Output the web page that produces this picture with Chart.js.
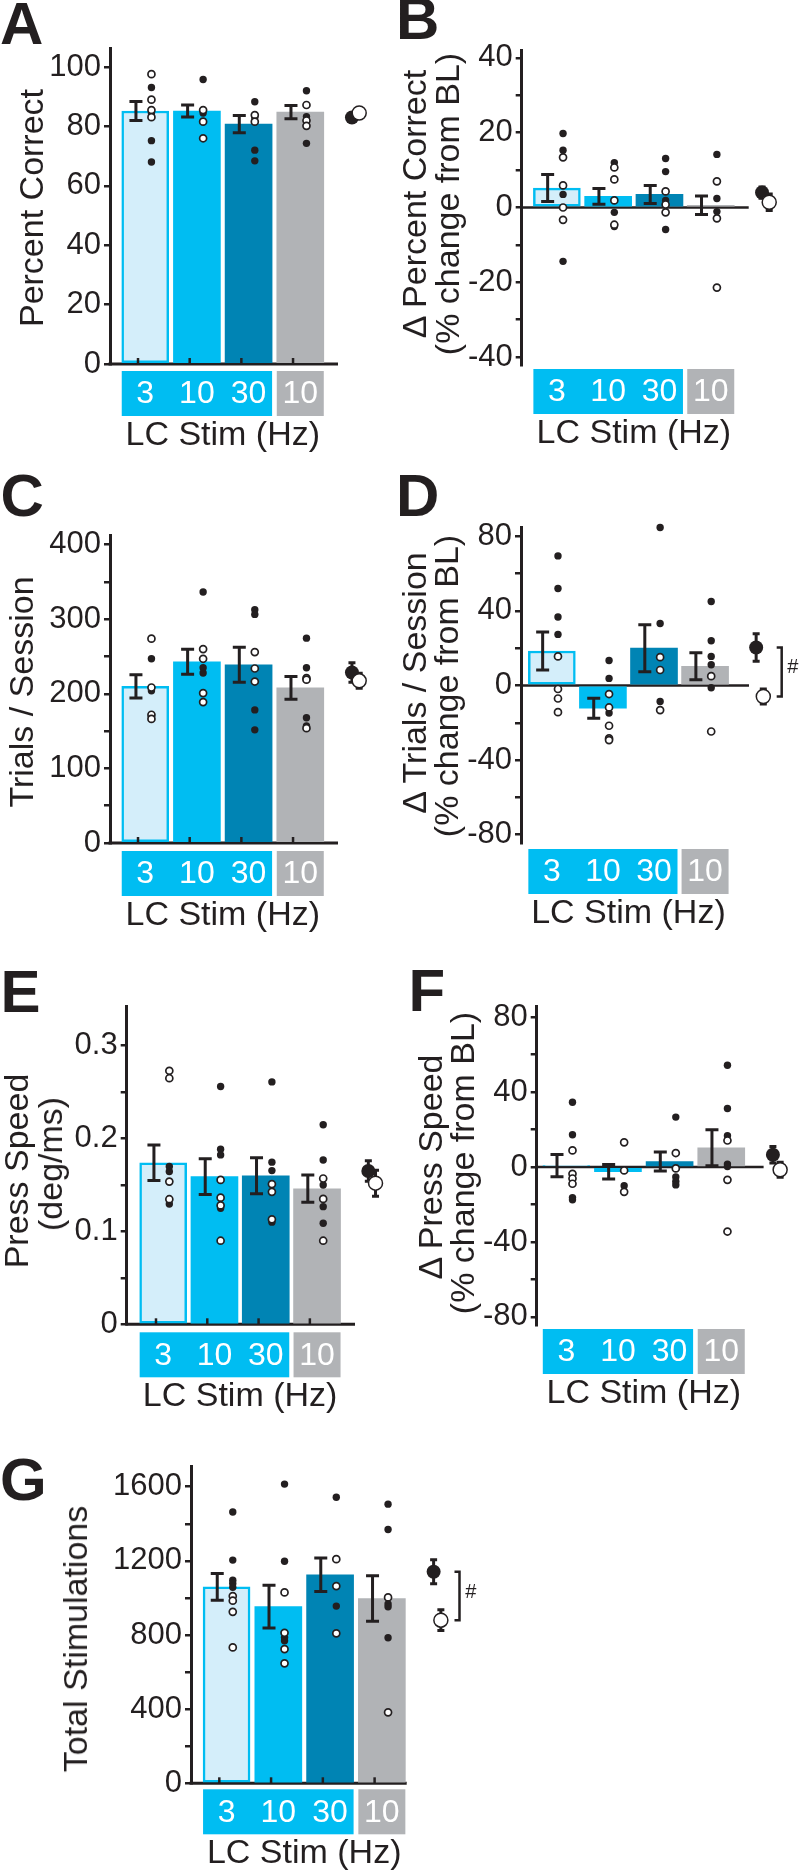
<!DOCTYPE html>
<html>
<head>
<meta charset="utf-8">
<script src="https://cdn.jsdelivr.net/npm/chart.js"></script>
<style>
  body { margin: 0; background: #fff; }
  #page { position: relative; width: 800px; height: 1875px; overflow: hidden;
          font-family: 'Liberation Sans', Arial, sans-serif; color: #231f20; }
  canvas { position: absolute; }
  .lbl { position: absolute; font-weight: bold; font-size: 60px; line-height: 60px; }
  .ttl { position: absolute; font-size: 34px; line-height: 34px; white-space: nowrap;
         transform: translate(-50%, -50%) rotate(-90deg); }
</style>
</head>
<body>
<div id="page"></div>
<script>
// category labels under the bars (LC stim frequency, last one is the control)
const freqLabels = ['3', '10', '30', '10'];

// A - percent correct
const pctMean = [85.2, 85.2, 80.8, 84.8];
const pctSem = [3.2, 2.0, 2.9, 2.2];
const pctFilled = [[93.1, 84.5, 75.2, 68], [95.8, 84.5], [88.3, 83, 72, 68.4], [92, 83.3, 74.3]];
const pctOpen = [[97.6, 89, 85.5, 83.1], [85.5, 81.6, 76], [83.8, 81.6], [87.2, 82, 80.2]];
const pctGroup = [83, 84.5];
const pctGroupSem = [1.2, 1.5];

// B - change in percent correct
const dPctMean = [5.2, 3.0, 3.5, 0.6];
const dPctSem = [3.6, 2.1, 2.4, 2.5];
const dPctFilled = [[19.8, 15.3, 3.5, -14.4], [12, -1.3, -5.1], [13.1, 9.6, 1.9, -5.9], [14.2, 2.4, -1.1]];
const dPctOpen = [[13.4, 5.9, 0, -3.3], [10.7, 7.5, 1.9, -4.6], [4.3, 0.8, -1.3], [7, -2.9, -21.4]];
const dPctGroup = [4.0, 1.4];
const dPctGroupSem = [1.5, 2.2];

// C - trials / session
const trialsMean = [210, 243, 239, 208];
const trialsSem = [15.7, 16.8, 23.5, 15.4];
const trialsFilled = [[247, 204, 169.5], [336.5, 235, 228], [312.7, 306.5, 178.5, 151.7], [274.7, 235, 168, 157]];
const trialsOpen = [[274, 208.5, 172, 166.4], [260, 247, 201, 189], [256, 234, 216.5], [221, 219, 154]];
const trialsGroup = [228.6, 217.5];
const trialsGroupSem = [13, 10];

// D - change in trials / session
const dTrialsMean = [18.5, -12.2, 20, 10.3];
const dTrialsSem = [10.2, 5.4, 12.6, 7.3];
const dTrialsFilled = [[69.5, 52, 36.7, 27.4], [13.4, 3.8, -14.8], [84.7, 33.2, -8.6], [45, 24, 15.6, 11.1, -1.2]];
const dTrialsOpen = [[15.6, -1.9, -7, -14.3], [-4.6, -11.8, -21.6, -28.4, -29.3], [15.2, 8.3, -13.2], [5.0, -24.7]];
const dTrialsGroup = [20.4, -5.9];
const dTrialsGroupSem = [7.4, 4];

// E - press speed
const speedMean = [0.174, 0.159, 0.16, 0.146];
const speedSem = [0.0192, 0.0192, 0.0194, 0.0147];
const speedFilled = [[0.170, 0.1645, 0.1296], [0.256, 0.1886, 0.1824, 0.125], [0.261, 0.1746, 0.1655, 0.11], [0.2148, 0.177, 0.150, 0.1267, 0.1088]];
const speedOpen = [[0.273, 0.265, 0.1537, 0.1347], [0.1555, 0.1364, 0.128, 0.090], [0.151, 0.1426, 0.113], [0.157, 0.135, 0.090]];
const speedGroup = [0.165, 0.152];
const speedGroupSem = [0.011, 0.014];

// F - change in press speed
const dSpeedMean = [0.8, -2.5, 3.0, 10.3];
const dSpeedSem = [5.9, 3.9, 5.1, 9.6];
const dSpeedFilled = [[34.6, 17.3, -16.3, -17.5], [-10], [26.7, -5.3, -7.7, -9.5], [54.4, 31.3, 16.7, 1.6, 0.3]];
const dSpeedOpen = [[8.9, -3.6, -6.1, -8.9], [13.2, -1.8, -13.2], [7.5, -0.7], [14.2, -6.8, -34.4]];
const dSpeedGroup = [6.6, -1.4];
const dSpeedGroupSem = [4.4, 4];

// G - total stimulations
const stimMean = [1060, 953, 1125, 997];
const stimSem = [72, 115, 90, 123];
const stimFilled = [[1464, 1204, 1096, 1078, 1057], [1614, 1198, 787, 769], [1543, 956], [1506, 1369, 967, 952, 785]];
const stimOpen = [[1010, 985, 925, 733], [1030, 812, 724, 647], [1209, 1064, 809], [1003, 383]];
const stimGroup = [1141, 880];
const stimGroupSem = [65, 56];

const INK = '#231f20';
const CYAN = '#00bdf2', LIGHT = '#d4eefa', DARK = '#0084b4', GRAY = '#b1b3b6';
const BAR_DX = 0.14, EBAR_DX = -0.04, DOT_DX = 0.26, GROUP_X = [5.14, 5.28], BAR_W = 47;
const X_RIGHT = 5.5; // room for the group means right of the axis

Chart.defaults.font.family = "'Liberation Sans', Arial, sans-serif";
Chart.defaults.color = INK;

const page = document.getElementById('page');

function errBar(ctx, x, y1, y2, cap) {
  ctx.beginPath();
  ctx.moveTo(x, y1); ctx.lineTo(x, y2);
  ctx.moveTo(x - cap, y1); ctx.lineTo(x + cap, y1);
  ctx.moveTo(x - cap, y2); ctx.lineTo(x + cap, y2);
  ctx.stroke();
}

function panelPlugin(p) {
  return {
    id: 'panel',
    beforeDatasetsDraw(chart) {
      const { ctx, chartArea: a, scales: { x, y } } = chart;
      const xe = x.getPixelForValue(p.xr[1]);
      ctx.save();
      ctx.strokeStyle = INK;
      ctx.beginPath();
      if (p.zeroLine) {
        const y0 = y.getPixelForValue(0);
        ctx.lineWidth = 2.5;
        ctx.moveTo(a.left, y0); ctx.lineTo(xe, y0);
      } else {
        ctx.lineWidth = 3;
        ctx.moveTo(a.left - 1.5, a.bottom); ctx.lineTo(xe, a.bottom);
      }
      ctx.stroke();
      ctx.restore();
    },
    afterDatasetDraw(chart, args) {
      const { ctx, scales: { x, y } } = chart;
      ctx.save();
      ctx.strokeStyle = INK; ctx.lineWidth = 3;
      if (args.index === 0) {
        p.mean.forEach((m, i) => errBar(ctx, x.getPixelForValue(i + 1 + EBAR_DX),
          y.getPixelForValue(m - p.sem[i]), y.getPixelForValue(m + p.sem[i]), 6.5));
      }
      if (args.index === 2) {
        p.group.forEach((m, k) => errBar(ctx, x.getPixelForValue(GROUP_X[k]),
          y.getPixelForValue(m - p.groupSem[k]), y.getPixelForValue(m + p.groupSem[k]), 3.5));
      }
      ctx.restore();
    },
    afterDraw(chart) {
      const { ctx, chartArea: a, scales: { x, y } } = chart;
      const xb = i => x.getPixelForValue(i + 1 + BAR_DX);
      const half = BAR_W / 2;
      ctx.save();
      // small inward ticks on the x axis
      if (!p.zeroLine) {
        ctx.strokeStyle = INK; ctx.lineWidth = 2.5;
        for (let i = 1; i <= 4; i++) {
          const tx = x.getPixelForValue(i);
          ctx.beginPath(); ctx.moveTo(tx, a.bottom); ctx.lineTo(tx, a.bottom - 6); ctx.stroke();
        }
      }
      // coloured frequency boxes
      const top = a.bottom + p.gap, h = 45;
      ctx.fillStyle = CYAN;
      ctx.fillRect(xb(0) - half, top, xb(2) - xb(0) + BAR_W, h);
      ctx.fillStyle = GRAY;
      ctx.fillRect(xb(3) - half, top, BAR_W, h);
      ctx.fillStyle = '#fff';
      ctx.font = "32px 'Liberation Sans', Arial, sans-serif";
      ctx.textAlign = 'center'; ctx.textBaseline = 'middle';
      freqLabels.forEach((t, i) => ctx.fillText(t, xb(i), top + h / 2 + 1));
      ctx.fillStyle = INK;
      ctx.font = "34px 'Liberation Sans', Arial, sans-serif";
      ctx.textBaseline = 'alphabetic';
      ctx.fillText('LC Stim (Hz)', (xb(0) + xb(3)) / 2, top + h + 29);
      // significance bracket between the group means
      if (p.bracket) {
        const bx = x.getPixelForValue(5.64);
        const y1 = y.getPixelForValue(p.group[0]), y2 = y.getPixelForValue(p.group[1]);
        ctx.strokeStyle = INK; ctx.lineWidth = 2.5;
        ctx.beginPath();
        ctx.moveTo(bx - 5, y1); ctx.lineTo(bx, y1); ctx.lineTo(bx, y2); ctx.lineTo(bx - 5, y2);
        ctx.stroke();
        ctx.font = "20px 'Liberation Sans', Arial, sans-serif";
        ctx.textBaseline = 'middle';
        ctx.fillText('#', x.getPixelForValue(5.86), (y1 + y2) / 2 - 4);
      }
      ctx.restore();
    }
  };
}

function makePanel(p) {
  const cv = document.createElement('canvas');
  cv.width = p.box.w; cv.height = p.box.h;
  cv.style.left = p.box.x + 'px'; cv.style.top = p.box.y + 'px';
  page.appendChild(cv);
  // pixel width of one category step, from the axis end measured on the reference
  const unit = (p.area.r - p.area.l) / (p.xr[1] - p.xr[0]);
  const right = p.area.l + (X_RIGHT - p.xr[0]) * unit;
  const pts = arr => arr.flatMap((vals, i) => vals.map(v => ({ x: i + 1 + DOT_DX, y: v })));
  new Chart(cv, {
    type: 'bar',
    data: {
      datasets: [
        { type: 'bar', order: 5, data: p.mean.map((v, i) => ({ x: i + 1 + BAR_DX, y: v })),
          backgroundColor: [LIGHT, CYAN, DARK, GRAY], borderColor: [CYAN, CYAN, DARK, GRAY],
          borderWidth: [2.5, 0, 0, 0], borderSkipped: false, barThickness: BAR_W },
        { type: 'scatter', order: 4, data: pts(p.filled), pointRadius: 3.7, backgroundColor: INK, borderWidth: 0, clip: false },
        { type: 'scatter', order: 3, data: pts(p.open), pointRadius: 3.5, backgroundColor: '#fff', borderColor: INK, borderWidth: 1.7, clip: false },
        { type: 'scatter', order: 2, data: [{ x: GROUP_X[0], y: p.group[0] }], pointRadius: 7, backgroundColor: INK, borderWidth: 0, clip: false },
        { type: 'scatter', order: 1, data: [{ x: GROUP_X[1], y: p.group[1] }], pointRadius: 7, backgroundColor: '#fff', borderColor: INK, borderWidth: 1.5, clip: false }
      ]
    },
    options: {
      responsive: false, animation: false, devicePixelRatio: 1, events: [],
      layout: { padding: { left: 0, top: p.area.t - p.box.y, right: p.box.x + p.box.w - right, bottom: 0 } },
      plugins: { legend: { display: false }, tooltip: { enabled: false } },
      scales: {
        x: {
          type: 'linear', min: p.xr[0], max: X_RIGHT, offset: false,
          ticks: { display: false }, grid: { display: false, offset: false },
          border: { display: false },
          afterFit: s => { s.height = p.box.y + p.box.h - p.area.b; }
        },
        y: {
          min: p.y.min, max: p.y.max,
          afterFit: s => { s.width = p.area.l - p.box.x; },
          border: { color: INK, width: 3 },
          grid: { drawOnChartArea: false, color: INK, lineWidth: 2.5, tickLength: 6 },
          ticks: { stepSize: p.y.step, autoSkip: false, includeBounds: false, padding: 3,
                   color: INK, font: { size: 31 }, callback: p.y.fmt }
        }
      }
    },
    plugins: [panelPlugin(p)]
  });
}

const every = major => v => (Math.abs(Math.round(v) % major) === 0 ? String(v) : '');
const speedFmt = v => { const k = Math.round(v * 100); return k % 10 === 0 ? (k === 0 ? '0' : String(k / 100)) : ''; };

makePanel({ box: { x: 0, y: 0, w: 400, h: 460 }, area: { l: 110, r: 338, t: 48, b: 364 }, xr: [0.458, 4.87],
  y: { min: 0, max: 106.4, step: 20, fmt: every(20) }, gap: 7,
  mean: pctMean, sem: pctSem, filled: pctFilled, open: pctOpen, group: pctGroup, groupSem: pctGroupSem });

makePanel({ box: { x: 400, y: 0, w: 400, h: 460 }, area: { l: 521.7, r: 748.7, t: 50, b: 365 }, xr: [0.454, 4.88],
  y: { min: -42.1, max: 42.1, step: 10, fmt: every(20) }, zeroLine: true, gap: 4,
  mean: dPctMean, sem: dPctSem, filled: dPctFilled, open: dPctOpen, group: dPctGroup, groupSem: dPctGroupSem });

makePanel({ box: { x: 0, y: 460, w: 400, h: 480 }, area: { l: 110, r: 338, t: 535, b: 843 }, xr: [0.458, 4.87],
  y: { min: 0, max: 413, step: 50, fmt: every(100) }, gap: 8,
  mean: trialsMean, sem: trialsSem, filled: trialsFilled, open: trialsOpen, group: trialsGroup, groupSem: trialsGroupSem });

makePanel({ box: { x: 400, y: 460, w: 400, h: 480 }, area: { l: 521, r: 749, t: 527, b: 843 }, xr: [0.536, 5.0],
  y: { min: -84.5, max: 85, step: 20, fmt: every(40) }, zeroLine: true, bracket: true, gap: 6,
  mean: dTrialsMean, sem: dTrialsSem, filled: dTrialsFilled, open: dTrialsOpen, group: dTrialsGroup, groupSem: dTrialsGroupSem });

makePanel({ box: { x: 0, y: 940, w: 400, h: 500 }, area: { l: 126.7, r: 355, t: 1006.7, b: 1324.3 }, xr: [0.429, 4.88],
  y: { min: 0, max: 0.342, step: 0.05, fmt: speedFmt }, gap: 8,
  mean: speedMean, sem: speedSem, filled: speedFilled, open: speedOpen, group: speedGroup, groupSem: speedGroupSem });

makePanel({ box: { x: 400, y: 940, w: 400, h: 500 }, area: { l: 536.7, r: 766, t: 1006, b: 1325 }, xr: [0.567, 4.96],
  y: { min: -84.3, max: 86, step: 20, fmt: every(40) }, zeroLine: true, gap: 4,
  mean: dSpeedMean, sem: dSpeedSem, filled: dSpeedFilled, open: dSpeedOpen, group: dSpeedGroup, groupSem: dSpeedGroupSem });

makePanel({ box: { x: 0, y: 1440, w: 520, h: 435 }, area: { l: 191, r: 406.7, t: 1466.7, b: 1783.3 }, xr: [0.453, 4.62],
  y: { min: 0, max: 1708, step: 200, fmt: every(400) }, bracket: true, gap: 6,
  mean: stimMean, sem: stimSem, filled: stimFilled, open: stimOpen, group: stimGroup, groupSem: stimGroupSem });

// panel letters (left, baseline)
[['A', 0, 45], ['B', 396, 40], ['C', 0.6, 517], ['D', 396, 517],
 ['E', 0.6, 1013], ['F', 408.6, 1012], ['G', 0, 1501]].forEach(([t, x, base]) => {
  const d = document.createElement('div');
  d.className = 'lbl'; d.textContent = t;
  d.style.left = x + 'px'; d.style.top = (base - 50.8) + 'px';
  page.appendChild(d);
});

// rotated y-axis titles (centre x, centre y)
[['Percent Correct', 30.5, 208],
 ['\u0394 Percent Correct', 414, 204], ['(% change from BL)', 446.5, 204],
 ['Trials / Session', 20.5, 692],
 ['\u0394 Trials / Session', 414, 683], ['(% change from BL)', 445.7, 686],
 ['Press Speed', 15.5, 1171], ['(deg/ms)', 49.7, 1164],
 ['\u0394 Press Speed', 429.5, 1167], ['(% change from BL)', 461.7, 1163],
 ['Total Stimulations', 74.5, 1639]].forEach(([t, x, y]) => {
  const d = document.createElement('div');
  d.className = 'ttl'; d.textContent = t;
  d.style.left = x + 'px'; d.style.top = y + 'px';
  page.appendChild(d);
});
</script>
</body>
</html>
